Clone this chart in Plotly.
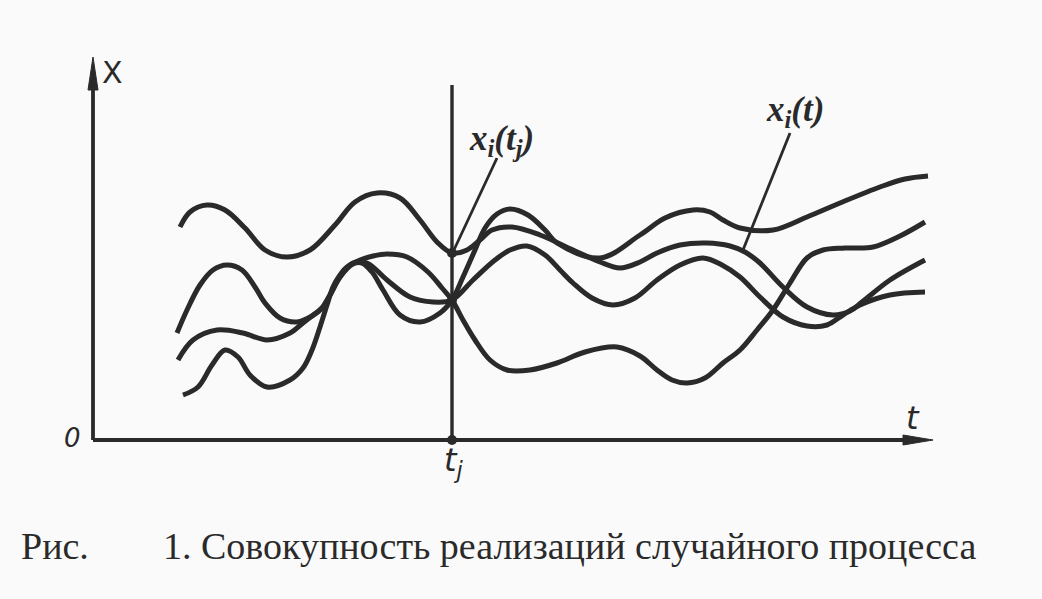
import plotly.graph_objects as go

# Realisations x_i(t) of a random process (t, X units)
t1 = [87, 97, 114, 132, 152, 172, 194, 217, 242, 262, 284, 307, 327, 344, 359, 374, 387, 399, 419, 447,
      480, 507, 527, 547, 564, 587, 614, 637, 652, 667, 690, 714, 740, 757, 769, 797, 832]
x1 = [213, 228, 235, 230, 212, 190, 183, 190, 215, 238, 247, 242, 220, 198, 187, 190, 200, 210, 213, 205,
      190, 178, 172, 178, 187, 195, 197, 194, 188, 177, 153, 133, 125, 129, 138, 160, 180]

t2 = [90, 105, 119, 132, 145, 157, 174, 197, 210, 219, 227, 234, 240, 247, 254, 267, 280, 294, 314, 335,
      349, 359, 370, 382, 397, 414, 437, 464, 492, 524, 547, 564, 579, 594, 612, 630, 647, 664, 680, 697,
      714, 730, 752, 780, 807, 832]
x2 = [45, 53, 75, 90, 83, 65, 53, 60, 72, 90, 113, 135, 153, 165, 173, 180, 184, 186, 183, 168,
      152, 140, 120, 100, 80, 70, 70, 77, 88, 93, 84, 70, 60, 57, 62, 77, 90, 110, 130, 157,
      182, 190, 192, 193, 204, 218]

t3 = [84, 94, 107, 120, 134, 149, 162, 172, 187, 204, 219, 229, 237, 247, 260, 274, 294, 317, 340, 359,
      380, 402, 417, 434, 452, 467, 480, 499, 520, 542, 564, 587, 610, 629, 647, 667, 690, 714, 734, 750,
      767, 797, 832]
x3 = [107, 130, 155, 170, 175, 170, 153, 137, 122, 118, 124, 132, 145, 163, 177, 177, 160, 143, 138, 140,
      160, 180, 190, 194, 185, 170, 157, 142, 135, 142, 160, 175, 182, 175, 163, 143, 123, 114, 115, 125,
      135, 145, 148]

t4 = [85, 100, 124, 150, 174, 197, 210, 219, 229, 237, 247, 260, 269, 279, 290, 307, 327, 347, 359, 370,
      382, 392, 404, 417, 435, 452, 464, 507, 547, 572, 600, 617, 630, 647, 680, 714, 747, 787, 812, 835]
x4 = [80, 100, 110, 107, 100, 107, 117, 124, 132, 145, 163, 176, 177, 168, 150, 125, 118, 127, 140, 163,
      190, 212, 226, 231, 225, 210, 197, 182, 205, 222, 230, 228, 220, 212, 210, 223, 237, 253, 261, 264]

tj = 359
dot_t = [359, 359, 359]
dot_x = [187, 140, 0]

ink = "#2a2a2a"
fig = go.Figure()
for tt, xx in [(t1, x1), (t2, x2), (t3, x3), (t4, x4)]:
    fig.add_trace(go.Scatter(x=tt, y=xx, mode="lines",
                             line=dict(color=ink, width=5, shape="spline", smoothing=1.0),
                             hoverinfo="skip", showlegend=False))
fig.add_trace(go.Scatter(x=dot_t, y=dot_x, mode="markers",
                         marker=dict(color=ink, size=10), hoverinfo="skip", showlegend=False))

shapes = [
    # axes
    dict(type="line", x0=0, y0=0, x1=0, y1=355, line=dict(color=ink, width=3.8)),
    dict(type="path", path="M 0,383 L -5,350 L 5,350 Z", fillcolor=ink, line=dict(color=ink, width=1)),
    dict(type="line", x0=0, y0=0, x1=815, y1=0, line=dict(color=ink, width=3.8)),
    dict(type="path", path="M 840,0 L 810,-5 L 810,5 Z", fillcolor=ink, line=dict(color=ink, width=1)),
    # t_j vertical
    dict(type="line", x0=tj, y0=0, x1=tj, y1=355, line=dict(color=ink, width=3.4)),
    # pointer lines
    dict(type="line", x0=404, y0=282, x1=360, y1=188, line=dict(color=ink, width=2.8)),
    dict(type="line", x0=697, y0=307, x1=650, y1=190, line=dict(color=ink, width=2.8)),
]

ann_font = dict(family="Liberation Serif", color=ink)
annotations = [
    dict(x=19, y=368, text="X", font=dict(family="DejaVu Sans", size=30, color=ink)),
    dict(x=-21, y=2, text="<i>0</i>", font=dict(family="DejaVu Sans", size=26, color=ink)),
    dict(x=820, y=22, text="<i>t</i>", font=dict(family="DejaVu Sans", size=32, color=ink)),
    dict(x=361, y=-22, text="<i>t<sub>j</sub></i>", font=dict(family="DejaVu Sans", size=32, color=ink)),
    dict(x=408, y=300, text="<b><i>x<sub>i</sub>(t<sub>j</sub>)</i></b>", font=dict(size=35, **ann_font)),
    dict(x=702, y=329, text="<b><i>x<sub>i</sub>(t)</i></b>", font=dict(size=35, **ann_font)),
    dict(x=-38, y=-106, text="Рис.", font=dict(size=38, **ann_font)),
    dict(x=68, y=-106, text="1. Совокупность реализаций случайного процесса", xanchor="left",
         font=dict(size=38, **ann_font)),
]
for a in annotations:
    a.setdefault("showarrow", False)
    a.setdefault("xref", "x")
    a.setdefault("yref", "y")

fig.update_layout(
    width=1042, height=599,
    margin=dict(l=0, r=0, t=0, b=0),
    paper_bgcolor="#fafafa", plot_bgcolor="#fafafa",
    xaxis=dict(range=[-93, 949], visible=False, fixedrange=True),
    yaxis=dict(range=[-159, 440], visible=False, fixedrange=True),
    shapes=shapes, annotations=annotations,
)
fig.write_html("out.html", config={"displayModeBar": False},
               post_script="document.body.style.margin='0';document.body.style.padding='0';"
                           "document.body.style.overflow='hidden';")
